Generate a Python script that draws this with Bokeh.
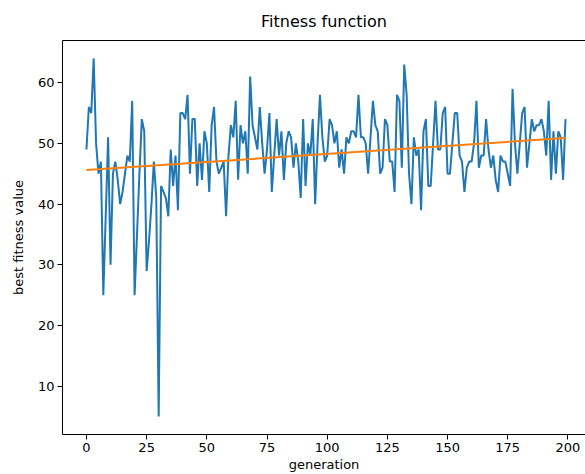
from bokeh.plotting import figure
from bokeh.models import LinearAxis, FixedTicker, Range1d, ColumnDataSource
from bokeh.embed import file_html
from bokeh.resources import INLINE

generation = list(range(200))
best_fitness = [
    49, 56, 55, 64, 50, 45, 47, 25, 38, 51,
    30, 45, 47, 44, 40, 42, 45, 48, 47, 57,
    25, 35, 45, 54, 52, 29, 34, 40, 47, 41,
    5, 43, 42, 41, 38, 49, 43, 48, 39, 55,
    55, 54, 58, 45, 54, 54, 43, 50, 44, 52,
    50, 42, 53, 56, 47, 45, 46, 47, 38, 48,
    53, 51, 57, 44, 53, 50, 52, 45, 61, 53,
    51, 49, 56, 50, 45, 49, 55, 42, 48, 54,
    48, 52, 44, 50, 52, 51, 46, 50, 47, 41,
    54, 43, 50, 48, 54, 40, 50, 58, 51, 47,
    48, 54, 53, 50, 52, 46, 49, 45, 51, 50,
    52, 52, 51, 58, 51, 51, 50, 45, 51, 57,
    53, 52, 45, 46, 54, 53, 47, 47, 42, 58,
    57, 46, 63, 58, 45, 40, 51, 48, 49, 39,
    52, 54, 43, 43, 50, 57, 49, 49, 55, 56,
    45, 45, 50, 55, 55, 48, 47, 42, 46, 47,
    47, 50, 57, 46, 48, 48, 54, 49, 46, 48,
    44, 42, 48, 47, 47, 45, 43, 59, 50, 45,
    50, 55, 56, 46, 50, 54, 52, 53, 53, 54,
    52, 48, 57, 44, 52, 45, 52, 51, 44, 54,
]
trend_x = [0, 199]
trend_y = [45.6, 50.9]

x_ticks = [0, 25, 50, 75, 100, 125, 150, 175, 200]
y_ticks = [10, 20, 30, 40, 50, 60]

FONT = "DejaVu Sans"

p = figure(width=585, height=474, output_backend="svg", toolbar_location=None,
           x_range=Range1d(-9.95, 207.3), y_range=Range1d(2.05, 66.95),
           title="Fitness function", x_axis_label="generation",
           y_axis_label="best fitness value",
           min_border_left=62, min_border_right=0, min_border_top=40,
           min_border_bottom=0)

p.title.align = "center"
p.title.text_font = FONT
p.title.text_font_size = "16px"
p.title.text_font_style = "normal"
p.title.text_color = "black"
p.title.standoff = 8

p.outline_line_color = None
p.xgrid.grid_line_color = None
p.ygrid.grid_line_color = None
p.background_fill_color = "white"
p.border_fill_color = "white"

for ax in (p.xaxis[0], p.yaxis[0]):
    ax.axis_line_color = "black"
    ax.axis_line_width = 1
    ax.major_tick_line_color = "black"
    ax.major_tick_out = 5
    ax.major_tick_in = 0
    ax.minor_tick_line_color = None
    ax.major_label_text_font = FONT
    ax.major_label_text_font_size = "13px"
    ax.major_label_text_color = "black"
    ax.axis_label_text_font = FONT
    ax.axis_label_text_font_size = "13px"
    ax.axis_label_text_font_style = "normal"
    ax.axis_label_text_color = "black"
    ax.major_label_standoff = 3

p.xaxis[0].ticker = FixedTicker(ticks=x_ticks)
p.yaxis[0].ticker = FixedTicker(ticks=y_ticks)
p.xaxis[0].axis_label_standoff = 2
p.yaxis[0].axis_label_standoff = 9

top = LinearAxis(ticker=FixedTicker(ticks=x_ticks), axis_line_color="black",
                 axis_line_width=1,
                 major_tick_line_color=None, minor_tick_line_color=None,
                 major_label_text_color=None, major_label_text_font_size="1px",
                 major_label_standoff=0)
p.add_layout(top, "above")

src = ColumnDataSource(dict(x=generation, y=best_fitness))
p.line("x", "y", source=src, line_color="#1f77b4", line_width=2)
p.line(trend_x, trend_y, line_color="#ff7f0e", line_width=2)

open("out.html", "w").write(file_html(p, INLINE))
